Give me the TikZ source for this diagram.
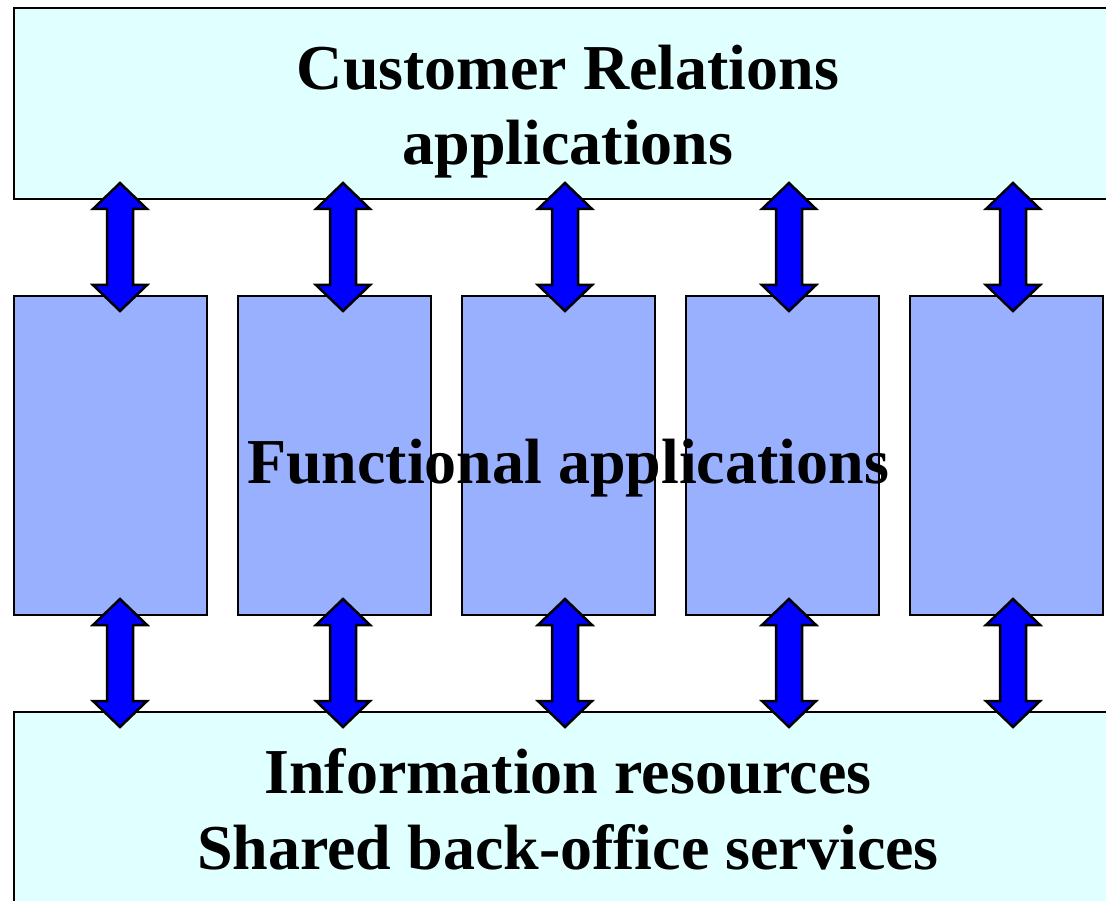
\documentclass[tikz,border=0pt]{standalone}
\usepackage{fontspec}
\setmainfont{Liberation Serif}
\usetikzlibrary{calc}
\definecolor{paleCyan}{HTML}{E0FFFF}
\definecolor{funcBlue}{HTML}{99B0FF}
\definecolor{arrowBlue}{HTML}{0000FF}

\begin{document}
\begin{tikzpicture}[x=1pt, y=-1pt,
		layer/.style={draw=black, line width=1.5pt, fill=paleCyan, inner sep=0pt, outer sep=0pt, anchor=north west, minimum width=1111pt},
		column/.style={draw=black, line width=1.5pt, fill=funcBlue, inner sep=0pt, outer sep=0pt, anchor=north west, minimum width=193pt, minimum height=319pt},
		dblarrow/.style={draw=black, line width=2.5pt, fill=arrowBlue, line join=miter},
		bigtext/.style={font=\bfseries\fontsize{64}{75}\selectfont, inner sep=0pt, anchor=base}]
			\def\colStep{224};
			\def\tipIn{16};

			\useasboundingbox (0,0) rectangle (1106,901);

			\begin{scope}
				\node[layer, minimum height=191pt] (crm) at (14,8) {};
				\node[layer, minimum height=220pt] (info) at (14,712) {};
			\end{scope}

			\begin{scope}
				\foreach \i in {1,...,5}
				{
					\node[column] (col\i) at ({14+\colStep*(\i-1)},296) {};
				}
			\end{scope}

			% double arrows above and below each column
			\begin{scope}
				\foreach \i/\dx in {1/9.5,2/8.5,3/6.5,4/6.5,5/6.5}
				{
					\draw[dblarrow] ($(crm.south -| col\i.north)+(\dx,-\tipIn)$) -- ++(27,26) -- ++(-14,0) -- ++(0,76) -- ++(14,0) -- ++(-27,26) -- ++(-27,-26) -- ++(14,0) -- ++(0,-76) -- ++(-14,0) -- cycle;
					\draw[dblarrow] ($(col\i.south)+(\dx,-\tipIn)$) -- ++(27,26) -- ++(-14,0) -- ++(0,76) -- ++(14,0) -- ++(-27,26) -- ++(-27,-26) -- ++(14,0) -- ++(0,-76) -- ++(-14,0) -- cycle;
				}
			\end{scope}

			\begin{scope}
				\node[bigtext] (crmA) at (568,90) {Customer Relations};
				\node[bigtext] (crmB) at (568,165) {applications};
				\node[bigtext] (func) at (568,483) {Functional applications};
				\node[bigtext] (infoA) at (568,793) {Information resources};
				\node[bigtext] (infoB) at (568,869) {Shared back-office services};
			\end{scope}
\end{tikzpicture}
\end{document}
